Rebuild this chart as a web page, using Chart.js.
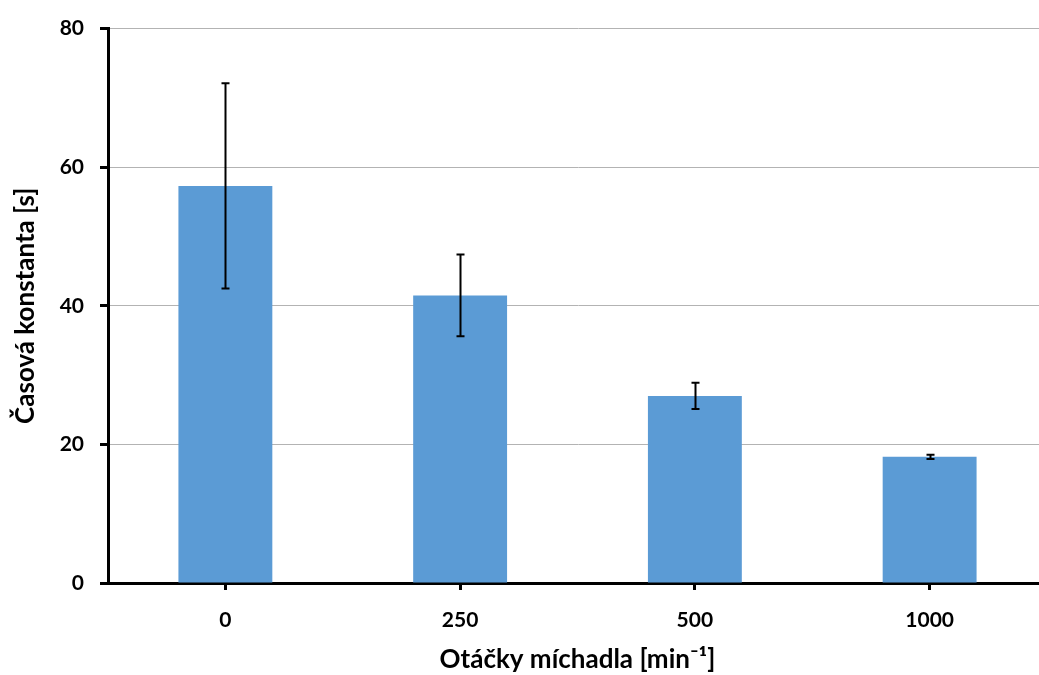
<!DOCTYPE html>
<html>
<head>
<meta charset="utf-8">
<script src="https://cdn.jsdelivr.net/npm/chart.js@4"></script>
<style>
  html, body { margin: 0; padding: 0; background: #fff; overflow: hidden; }
  #wrap { width: 1048px; height: 675px; }
</style>
</head>
<body>
<div id="wrap"><canvas id="graf" width="1048" height="675"></canvas></div>
<script>
// otacky michadla a casove konstanty
const otacky = ['0', '250', '500', '1000'];
const konstanta = [57.3, 41.5, 27.0, 18.2];
const chyba = [14.8, 5.9, 1.9, 0.3]; // smerodatna odchylka
const yTicks = [0, 20, 40, 60, 80];

const font = 'Lato, Carlito, "Open Sans", sans-serif';

// chybove usecky - kresli se pres osu y
const errorBars = {
    id: 'errorBars',
    afterDatasetsDraw(chart) {
        const ctx = chart.ctx;
        const y = chart.scales.y;
        const meta = chart.getDatasetMeta(0);
        ctx.save();
        ctx.strokeStyle = '#000';
        ctx.lineWidth = 2;
        meta.data.forEach((bar, i) => {
            const top = y.getPixelForValue(konstanta[i] + chyba[i]);
            const bot = y.getPixelForValue(konstanta[i] - chyba[i]);
            const x = Math.round(bar.x) + 0.5;
            ctx.beginPath();
            ctx.moveTo(x, top); ctx.lineTo(x, bot);
            ctx.moveTo(x - 4, top); ctx.lineTo(x + 4, top);
            ctx.moveTo(x - 4, bot); ctx.lineTo(x + 4, bot);
            ctx.stroke();
        });
        ctx.restore();
    }
};

new Chart(document.getElementById('graf'), {
    type: 'bar',
    data: {
        labels: otacky,
        datasets: [{
            data: konstanta,
            backgroundColor: '#5b9bd5',
            borderWidth: 0,
            barPercentage: 0.8,
            categoryPercentage: 0.5
        }]
    },
    options: {
        responsive: false,
        animation: false,
        layout: { padding: { top: 26, right: 1, left: 0, bottom: 0 } },
        plugins: { legend: { display: false }, tooltip: { enabled: false } },
        scales: {
            x: {
                grid: { display: true, drawOnChartArea: false, offset: false, tickLength: 7, tickColor: '#000', tickWidth: 3 },
                border: { color: '#000', width: 3 },
                ticks: { color: '#000', padding: 18, font: { family: font, size: 21, weight: 'bold' } },
                title: { display: true, text: 'Otáčky míchadla [min⁻¹]', color: '#000', padding: { top: 9, bottom: 0 },
                         font: { family: font, size: 26, weight: 'bold' } },
                afterFit(s) { s.height = 92; }
            },
            y: {
                min: 0, max: 80,
                afterBuildTicks(s) { s.ticks = yTicks.map(v => ({ value: v })); },
                grid: { color: '#b3b3b3', lineWidth: 1, tickLength: 8, tickColor: '#000', tickWidth: 3 },
                border: { color: '#000', width: 3 },
                ticks: { color: '#000', padding: 16, font: { family: font, size: 21, weight: 'bold' } },
                title: { display: true, text: 'Časová konstanta [s]', color: '#000', padding: { top: 10, bottom: 6 },
                         font: { family: font, size: 26, weight: 'bold' } },
                afterFit(s) { s.width = 108; }
            }
        }
    },
    plugins: [errorBars]
});
</script>
</body>
</html>
